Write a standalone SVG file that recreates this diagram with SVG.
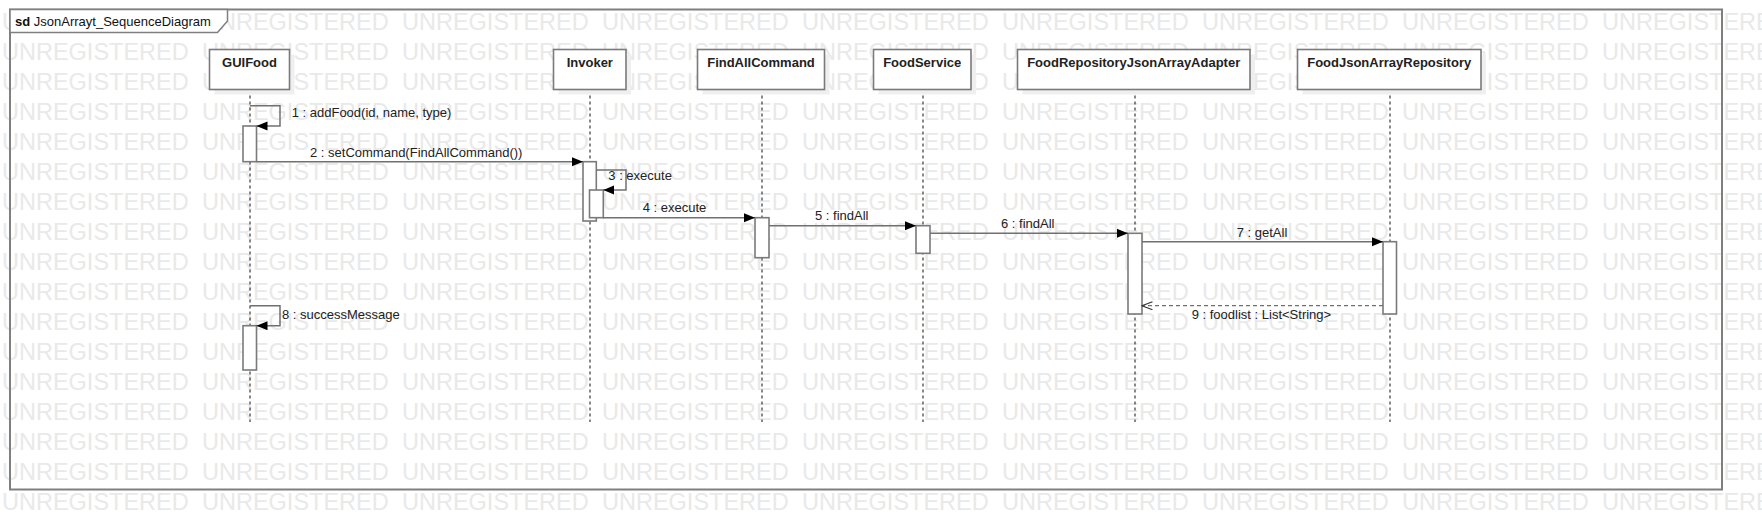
<svg xmlns="http://www.w3.org/2000/svg" xmlns:xlink="http://www.w3.org/1999/xlink" width="1762" height="530" viewBox="0 0 1762 530">
<style>
.wm{font-family:"Liberation Sans",Arial,sans-serif;font-size:23.5px;fill:#e9e9e9}
.frame{fill:none;stroke:#7f7f7f;stroke-width:2}
.tab{fill:#ffffff;stroke:#7f7f7f;stroke-width:1.5}
.box{fill:#ffffff;stroke:#7a7a7a;stroke-width:1.6}
.shadow{fill:#efefef;stroke:none}
.name{font-family:"Liberation Sans",Arial,sans-serif;font-size:13px;font-weight:bold;fill:#222;text-anchor:middle}
.life{stroke:#111;stroke-width:1;stroke-dasharray:3,3;fill:none}
.act{fill:#ffffff;stroke:#7a7a7a;stroke-width:1.6}
.msg{fill:none;stroke:#707070;stroke-width:1.5}
.ret{fill:none;stroke:#707070;stroke-width:1.3;stroke-dasharray:4,3}
.lbl{font-family:"Liberation Sans",Arial,sans-serif;font-size:13px;fill:#222}
.sd{font-family:"Liberation Sans",Arial,sans-serif;font-size:13px;fill:#111}
</style>
<defs>
<marker id="filled" markerUnits="userSpaceOnUse" markerWidth="12" markerHeight="10" refX="11" refY="4.5" orient="auto">
<path d="M0,0 L11,4.5 L0,9 z" fill="#000"/>
</marker>
<marker id="open" markerUnits="userSpaceOnUse" markerWidth="12" markerHeight="10" refX="10.5" refY="4.5" orient="auto">
<path d="M0,0.5 L10.5,4.5 L0,8.5" fill="none" stroke="#333" stroke-width="1.2"/>
</marker>
<text id="wmrow" class="wm" y="0"><tspan x="2">UNREGISTERED</tspan><tspan x="202">UNREGISTERED</tspan><tspan x="402">UNREGISTERED</tspan><tspan x="602">UNREGISTERED</tspan><tspan x="802">UNREGISTERED</tspan><tspan x="1002">UNREGISTERED</tspan><tspan x="1202">UNREGISTERED</tspan><tspan x="1402">UNREGISTERED</tspan><tspan x="1602">UNREGISTERED</tspan></text>
</defs>
<rect x="0" y="0" width="1762" height="530" fill="#ffffff"/>
<g id="watermark">
<use href="#wmrow" y="30"/><use href="#wmrow" y="60"/><use href="#wmrow" y="90"/><use href="#wmrow" y="120"/><use href="#wmrow" y="150"/><use href="#wmrow" y="180"/><use href="#wmrow" y="210"/><use href="#wmrow" y="240"/><use href="#wmrow" y="270"/><use href="#wmrow" y="300"/><use href="#wmrow" y="330"/><use href="#wmrow" y="360"/><use href="#wmrow" y="390"/><use href="#wmrow" y="420"/><use href="#wmrow" y="450"/><use href="#wmrow" y="480"/><use href="#wmrow" y="510"/>
</g>
<g id="frame">
<rect class="frame" x="10" y="9.5" width="1712" height="480"/>
<path class="tab" d="M10,9.5 H227.5 V21 L217.5,32.5 H10 Z"/>
<text class="sd" x="15" y="26"><tspan font-weight="bold">sd</tspan> JsonArrayt_SequenceDiagram</text>
</g>
<g id="lifelines">
<line class="life" x1="250" y1="89.5" x2="250" y2="422"/>
<line class="life" x1="590" y1="89.5" x2="590" y2="422"/>
<line class="life" x1="762" y1="89.5" x2="762" y2="422"/>
<line class="life" x1="923" y1="89.5" x2="923" y2="422"/>
<line class="life" x1="1135" y1="89.5" x2="1135" y2="422"/>
<line class="life" x1="1390" y1="89.5" x2="1390" y2="422"/>
</g>
<g id="GUIFood">
<rect class="shadow" x="214.5" y="54.5" width="80" height="40"/>
<rect class="box" x="209.5" y="49.5" width="80" height="40"/>
<text class="name" x="249.5" y="67">GUIFood</text>
<rect class="act" x="243" y="126" width="13.5" height="35.7"/>
<rect class="act" x="243" y="325.7" width="13.5" height="44.3"/>
</g>
<g id="Invoker">
<rect class="shadow" x="558.5" y="54.5" width="72.5" height="40"/>
<rect class="box" x="553.5" y="49.5" width="72.5" height="40"/>
<text class="name" x="589.8" y="67">Invoker</text>
<rect class="act" x="583" y="161.7" width="13.3" height="59.3"/>
<rect class="act" x="589.5" y="190" width="13.8" height="27.7"/>
</g>
<g id="FindAllCommand">
<rect class="shadow" x="702.5" y="54.5" width="127" height="40"/>
<rect class="box" x="697.5" y="49.5" width="127" height="40"/>
<text class="name" x="761" y="67">FindAllCommand</text>
<rect class="act" x="755" y="217.7" width="14" height="40"/>
</g>
<g id="FoodService">
<rect class="shadow" x="878.5" y="54.5" width="97.5" height="40"/>
<rect class="box" x="873.5" y="49.5" width="97.5" height="40"/>
<text class="name" x="922.2" y="67">FoodService</text>
<rect class="act" x="916" y="225.7" width="14" height="27.6"/>
</g>
<g id="FoodRepositoryJsonArrayAdapter">
<rect class="shadow" x="1022.5" y="54.5" width="232.5" height="40"/>
<rect class="box" x="1017.5" y="49.5" width="232.5" height="40"/>
<text class="name" x="1133.7" y="67">FoodRepositoryJsonArrayAdapter</text>
<rect class="act" x="1128" y="233.3" width="14" height="80.7"/>
</g>
<g id="FoodJsonArrayRepository">
<rect class="shadow" x="1302.5" y="54.5" width="183.5" height="40"/>
<rect class="box" x="1297.5" y="49.5" width="183.5" height="40"/>
<text class="name" x="1389.2" y="67">FoodJsonArrayRepository</text>
<rect class="act" x="1383" y="241.7" width="13.5" height="72.3"/>
</g>
<g id="connectors">
<path class="msg" d="M250,105.7 H280 V126 H256.5" marker-end="url(#filled)"/>
<path class="msg" d="M256.5,161.7 H583" marker-end="url(#filled)"/>
<path class="msg" d="M596.3,170 H626 V190 H603.3" marker-end="url(#filled)"/>
<path class="msg" d="M603.3,217.7 H755" marker-end="url(#filled)"/>
<path class="msg" d="M769,225.7 H916" marker-end="url(#filled)"/>
<path class="msg" d="M930,233.3 H1128" marker-end="url(#filled)"/>
<path class="msg" d="M1142,241.7 H1383" marker-end="url(#filled)"/>
<path class="msg" d="M250,305.7 H280 V325.7 H256.5" marker-end="url(#filled)"/>
<path class="ret" d="M1383,305.7 H1142" marker-end="url(#open)"/>
<text class="lbl" x="291.7" y="116.5">1 : addFood(id, name, type)</text>
<text class="lbl" x="310" y="156.7">2 : setCommand(FindAllCommand())</text>
<text class="lbl" x="608.3" y="180">3 : execute</text>
<text class="lbl" x="642.7" y="211.5">4 : execute</text>
<text class="lbl" x="815" y="220">5 : findAll</text>
<text class="lbl" x="1001" y="228.3">6 : findAll</text>
<text class="lbl" x="1236.7" y="236.5">7 : getAll</text>
<text class="lbl" x="282" y="319.3">8 : successMessage</text>
<text class="lbl" x="1191.7" y="319.3">9 : foodlist : List&lt;String&gt;</text>
</g>
</svg>
